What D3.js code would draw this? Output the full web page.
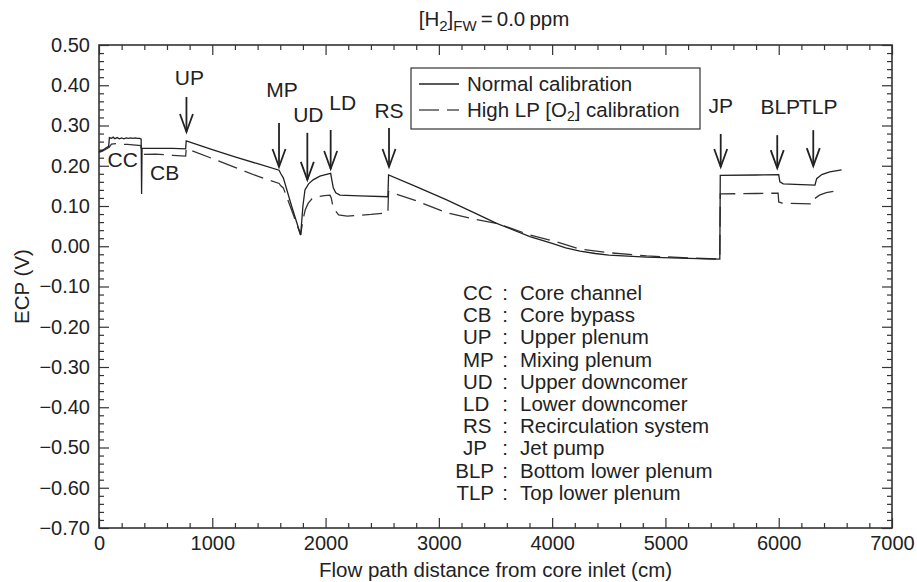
<!DOCTYPE html>
<html>
<head>
<meta charset="utf-8">
<script src="https://cdn.jsdelivr.net/npm/d3@7"></script>
<style>
  html, body { margin: 0; padding: 0; background: #fff; }
  svg { display: block; font-family: "Liberation Sans", Arial, Helvetica, sans-serif; }
</style>
</head>
<body>
<svg id="chart" width="917" height="582"></svg>
<script>
// ECP along the flow path, normal calibration (distance in cm, ECP in V)
const normalDist = [0, 30, 60, 85, 92, 110, 125, 140, 160, 180, 200, 220, 240, 260, 280, 300, 320, 340, 360, 372, 376, 380,
  500, 650, 765, 770, 1000, 1200, 1400, 1590, 1605, 1627, 1700, 1780, 1800, 1818, 1850, 1890, 1950, 2000, 2045, 2055, 2068,
  2090, 2127, 2300, 2550, 2556, 2800, 3069, 3300, 3510, 3804, 4000, 4120, 4246, 4380, 4500, 4834, 5200, 5480, 5484, 5800,
  6000, 6010, 6040, 6200, 6320, 6335, 6380, 6450, 6555];
const normalEcp = [0.235, 0.238, 0.244, 0.248, 0.270, 0.268, 0.271, 0.267, 0.270, 0.267, 0.269, 0.267, 0.269, 0.268, 0.269,
  0.268, 0.269, 0.268, 0.268, 0.266, 0.130, 0.243,
  0.243, 0.243, 0.242, 0.262, 0.240, 0.222, 0.205, 0.189, 0.180, 0.170, 0.100, 0.028, 0.100, 0.140, 0.155, 0.165, 0.174,
  0.178, 0.181, 0.165, 0.145,
  0.133, 0.127, 0.125, 0.123, 0.177, 0.148, 0.115, 0.085, 0.057, 0.024, 0.007, -0.004, -0.012, -0.018, -0.022, -0.027,
  -0.030, -0.032, 0.176, 0.177,
  0.178, 0.160, 0.155, 0.153, 0.152, 0.168, 0.178, 0.185, 0.190];

// ECP along the flow path, high lower-plenum [O2] calibration
const highDist = [0, 30, 60, 90, 110, 150, 200, 250, 300, 370, 378, 500, 650, 765, 770, 1000, 1200, 1400, 1590, 1605, 1627,
  1700, 1780, 1800, 1820, 1847, 1880, 1922, 1990, 2039, 2050, 2068, 2115, 2190, 2400, 2550, 2556, 2800, 3069, 3300, 3510,
  3804, 4000, 4246, 4500, 4834, 5200, 5480, 5484, 5800, 5995, 6000, 6030, 6200, 6300, 6320, 6360, 6420, 6510];
const highEcp = [0.233, 0.236, 0.241, 0.246, 0.254, 0.255, 0.253, 0.253, 0.252, 0.250, 0.228, 0.229, 0.226, 0.224, 0.243,
  0.218, 0.196, 0.174, 0.156, 0.150, 0.145,
  0.090, 0.028, 0.065, 0.090, 0.107, 0.118, 0.123, 0.126, 0.127, 0.120, 0.095, 0.078, 0.075, 0.079, 0.083, 0.136, 0.113,
  0.083, 0.068, 0.057,
  0.028, 0.014, -0.007, -0.016, -0.024, -0.029, -0.032, 0.130, 0.131, 0.132, 0.110, 0.107, 0.106, 0.105, 0.119, 0.127,
  0.133, 0.138];

// Region markers: name, distance of the arrow, ECP at the arrow tip
const markerNames = ["UP", "MP", "UD", "LD", "RS", "JP", "BLP", "TLP"];
const markerDist = [772, 1589, 1839, 2045, 2560, 5488, 5987, 6305];
const markerTip = [0.284, 0.197, 0.165, 0.192, 0.197, 0.197, 0.194, 0.199];

// Region glossary
const regionCodes = ["CC", "CB", "UP", "MP", "UD", "LD", "RS", "JP", "BLP", "TLP"];
const regionNames = ["Core channel", "Core bypass", "Upper plenum", "Mixing plenum", "Upper downcomer",
  "Lower downcomer", "Recirculation system", "Jet pump", "Bottom lower plenum", "Top lower plenum"];

// Axis ticks
const xMajorTicks = [0, 1000, 2000, 3000, 4000, 5000, 6000, 7000];
const yMajorTicks = [0.50, 0.40, 0.30, 0.20, 0.10, 0.00, -0.10, -0.20, -0.30, -0.40, -0.50, -0.60, -0.70];

const seriesNames = ["Normal calibration", "High LP [O2] calibration"];

// ---------------------------------------------------------------
const svg = d3.select("#chart");
const W = 917, H = 582;
const margin = { left: 99, right: 25, top: 45, bottom: 54 };
const ink = "#222";
const fontMain = 20.5;
const fontTick = 20;

const x = d3.scaleLinear().domain([0, 7000]).range([margin.left, W - margin.right]);
const y = d3.scaleLinear().domain([-0.7, 0.5]).range([H - margin.bottom, margin.top]);

const xMinor = d3.range(0, 7001, 200).filter(v => v % 1000 !== 0);
const yMinor = d3.range(-70, 51, 2).filter(v => v % 10 !== 0).map(v => v / 100);

function styleAxis(g) {
  g.select(".domain").remove();
  g.selectAll(".tick line").attr("stroke", "#333").attr("stroke-width", 1.2);
  g.selectAll("text").attr("fill", ink).attr("font-size", fontTick).attr("font-family", null);
}

const fmtY = v => (v < 0 ? "\u2212" : "") + Math.abs(v).toFixed(2);

// bottom
svg.append("g").attr("transform", `translate(0,${y(-0.7)})`)
  .call(d3.axisBottom(x).tickValues(xMajorTicks).tickSizeInner(-10).tickSizeOuter(0).tickPadding(8).tickFormat(d3.format("d")))
  .call(styleAxis);
svg.append("g").attr("transform", `translate(0,${y(-0.7)})`)
  .call(d3.axisBottom(x).tickValues(xMinor).tickSizeInner(-5).tickSizeOuter(0).tickFormat(""))
  .call(styleAxis);
// top
svg.append("g").attr("transform", `translate(0,${y(0.5)})`)
  .call(d3.axisTop(x).tickValues(xMajorTicks).tickSizeInner(-10).tickSizeOuter(0).tickFormat(""))
  .call(styleAxis);
svg.append("g").attr("transform", `translate(0,${y(0.5)})`)
  .call(d3.axisTop(x).tickValues(xMinor).tickSizeInner(-5).tickSizeOuter(0).tickFormat(""))
  .call(styleAxis);
// left
svg.append("g").attr("transform", `translate(${x(0)},0)`)
  .call(d3.axisLeft(y).tickValues(yMajorTicks).tickSizeInner(-10).tickSizeOuter(0).tickPadding(9).tickFormat(fmtY))
  .call(styleAxis);
svg.append("g").attr("transform", `translate(${x(0)},0)`)
  .call(d3.axisLeft(y).tickValues(yMinor).tickSizeInner(-5).tickSizeOuter(0).tickFormat(""))
  .call(styleAxis);
// right
svg.append("g").attr("transform", `translate(${x(7000)},0)`)
  .call(d3.axisRight(y).tickValues(yMajorTicks).tickSizeInner(-10).tickSizeOuter(0).tickFormat(""))
  .call(styleAxis);
svg.append("g").attr("transform", `translate(${x(7000)},0)`)
  .call(d3.axisRight(y).tickValues(yMinor).tickSizeInner(-5).tickSizeOuter(0).tickFormat(""))
  .call(styleAxis);

// frame
svg.append("rect")
  .attr("x", x(0)).attr("y", y(0.5))
  .attr("width", x(7000) - x(0)).attr("height", y(-0.7) - y(0.5))
  .attr("fill", "none").attr("stroke", "#333").attr("stroke-width", 1.6);

// axis titles
svg.append("text")
  .attr("x", (x(0) + x(7000)) / 2).attr("y", 577)
  .attr("text-anchor", "middle").attr("font-size", fontMain).attr("fill", ink)
  .text("Flow path distance from core inlet (cm)");
svg.append("text")
  .attr("transform", `translate(29,${(y(0.5) + y(-0.7)) / 2}) rotate(-90)`)
  .attr("text-anchor", "middle").attr("font-size", fontMain).attr("fill", ink)
  .text("ECP (V)");

// heading
const head = svg.append("text")
  .attr("x", 494).attr("y", 26).attr("text-anchor", "middle")
  .attr("font-size", 20.5).attr("fill", ink);
head.append("tspan").text("[H");
head.append("tspan").attr("font-size", 15).attr("dy", 5).text("2");
head.append("tspan").attr("dy", -5).text("]");
head.append("tspan").attr("font-size", 15).attr("dy", 5).text("FW");
head.append("tspan").attr("dy", -5).text("\u2009=\u20090.0\u2009ppm");

// curves
const line = d3.line().x(d => x(d[0])).y(d => y(d[1]));
const normalPts = d3.zip(normalDist, normalEcp);
const highPts = d3.zip(highDist, highEcp);

svg.append("path").datum(highPts)
  .attr("d", line).attr("fill", "none")
  .attr("stroke", "#333").attr("stroke-width", 1.3)
  .attr("stroke-dasharray", "20,8");
svg.append("path").datum(normalPts)
  .attr("d", line).attr("fill", "none")
  .attr("stroke", "#222").attr("stroke-width", 1.3);

// region arrows: shaft length and label offset above the shaft top (px)
const arrowLen = [35, 44, 47, 39, 39, 33, 33, 36];
const labelDx = [3, 3, 1, 12, 0, 0, 3, 5];
const labelGap = [12, 26, 11, 20, 10, 21, 21, 16];
const arrows = svg.append("g").attr("stroke", "#222").attr("stroke-width", 1.8).attr("fill", "none");
markerNames.forEach((name, i) => {
  const ax = x(markerDist[i]);
  const tip = y(markerTip[i]);
  const top = tip - arrowLen[i];
  arrows.append("line").attr("x1", ax).attr("x2", ax).attr("y1", top).attr("y2", tip);
  arrows.append("path").attr("d", `M${ax - 6.5},${tip - 18}L${ax},${tip}L${ax + 6.5},${tip - 18}`);
  svg.append("text")
    .attr("x", ax + labelDx[i]).attr("y", top - labelGap[i])
    .attr("text-anchor", "middle").attr("font-size", 21).attr("fill", ink)
    .text(name);
});

// core-region labels written beside the curves
svg.append("text").attr("x", x(210)).attr("y", y(0.2)).attr("dy", 1)
  .attr("text-anchor", "middle").attr("font-size", 21).attr("fill", ink).text("CC");
svg.append("text").attr("x", x(580)).attr("y", y(0.164))
  .attr("text-anchor", "middle").attr("font-size", 21).attr("fill", ink).text("CB");

// legend
const lg = svg.append("g").attr("transform", "translate(411,68)");
lg.append("rect").attr("width", 289).attr("height", 61)
  .attr("fill", "#fff").attr("stroke", "#333").attr("stroke-width", 1.2);
[0, 1].forEach(i => {
  const ly = 16 + i * 26;
  lg.append("line").attr("x1", 8).attr("x2", 48).attr("y1", ly).attr("y2", ly)
    .attr("stroke", i === 0 ? "#222" : "#555").attr("stroke-width", 1.3)
    .attr("stroke-dasharray", i === 0 ? null : "20,8");
  const t = lg.append("text").attr("x", 56).attr("y", ly + 7)
    .attr("font-size", fontMain).attr("fill", ink);
  if (i === 0) {
    t.text(seriesNames[0]);
  } else {
    t.append("tspan").text("High LP [O");
    t.append("tspan").attr("font-size", 14).attr("dy", 4).text("2");
    t.append("tspan").attr("dy", -4).text("] calibration");
  }
});

// glossary of region codes
const gl = svg.append("g");
regionCodes.forEach((code, i) => {
  const gy = 300 + i * 22.2;
  const c = gl.append("text").attr("y", gy).attr("font-size", fontMain).attr("fill", ink).text(code);
  const w = c.node().getComputedTextLength();
  c.attr("x", Math.min(463, 494 - w));
  gl.append("text").attr("x", 505).attr("y", gy).attr("text-anchor", "middle")
    .attr("font-size", fontMain).attr("fill", ink).text(":");
  gl.append("text").attr("x", 520).attr("y", gy).attr("font-size", fontMain).attr("fill", ink).text(regionNames[i]);
});
</script>
</body>
</html>
